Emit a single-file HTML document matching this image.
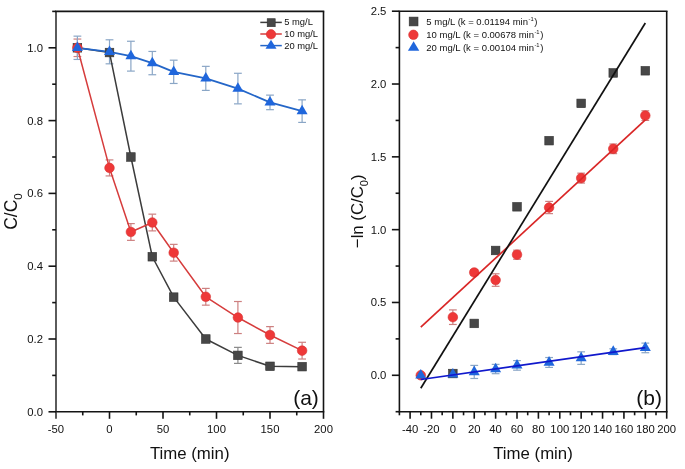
<!DOCTYPE html>
<html><head><meta charset="utf-8"><style>
html,body{margin:0;padding:0;background:#fff;width:685px;height:469px;overflow:hidden;}
svg{display:block;will-change:transform;font-family:"Liberation Sans",sans-serif;}
</style></head><body>
<svg width="685" height="469" viewBox="0 0 685 469" font-family="Liberation Sans, sans-serif">
<rect width="685" height="469" fill="#fff"/>
<line x1="56.0" y1="11.4" x2="56.0" y2="411.8" stroke="#333" stroke-width="1.6"/>
<line x1="55.2" y1="11.4" x2="324.3" y2="11.4" stroke="#141414" stroke-width="1.6"/>
<line x1="55.2" y1="411.8" x2="324.3" y2="411.8" stroke="#141414" stroke-width="1.6"/>
<line x1="323.5" y1="11.4" x2="323.5" y2="411.8" stroke="#141414" stroke-width="1.6"/>
<line x1="56.00" y1="411.8" x2="56.00" y2="418.80" stroke="#333" stroke-width="1.6"/>
<line x1="109.50" y1="411.8" x2="109.50" y2="418.80" stroke="#141414" stroke-width="1.6"/>
<line x1="163.00" y1="411.8" x2="163.00" y2="418.80" stroke="#141414" stroke-width="1.6"/>
<line x1="216.50" y1="411.8" x2="216.50" y2="418.80" stroke="#141414" stroke-width="1.6"/>
<line x1="270.00" y1="411.8" x2="270.00" y2="418.80" stroke="#141414" stroke-width="1.6"/>
<line x1="323.50" y1="411.8" x2="323.50" y2="418.80" stroke="#141414" stroke-width="1.6"/>
<line x1="82.75" y1="411.8" x2="82.75" y2="415.40" stroke="#141414" stroke-width="1.6"/>
<line x1="136.25" y1="411.8" x2="136.25" y2="415.40" stroke="#141414" stroke-width="1.6"/>
<line x1="189.75" y1="411.8" x2="189.75" y2="415.40" stroke="#141414" stroke-width="1.6"/>
<line x1="243.25" y1="411.8" x2="243.25" y2="415.40" stroke="#141414" stroke-width="1.6"/>
<line x1="296.75" y1="411.8" x2="296.75" y2="415.40" stroke="#141414" stroke-width="1.6"/>
<line x1="48.50" y1="411.80" x2="56.0" y2="411.80" stroke="#141414" stroke-width="1.6"/>
<line x1="48.50" y1="339.00" x2="56.0" y2="339.00" stroke="#141414" stroke-width="1.6"/>
<line x1="48.50" y1="266.20" x2="56.0" y2="266.20" stroke="#141414" stroke-width="1.6"/>
<line x1="48.50" y1="193.40" x2="56.0" y2="193.40" stroke="#141414" stroke-width="1.6"/>
<line x1="48.50" y1="120.60" x2="56.0" y2="120.60" stroke="#141414" stroke-width="1.6"/>
<line x1="48.50" y1="47.80" x2="56.0" y2="47.80" stroke="#141414" stroke-width="1.6"/>
<line x1="52.20" y1="375.40" x2="56.0" y2="375.40" stroke="#141414" stroke-width="1.6"/>
<line x1="52.20" y1="302.60" x2="56.0" y2="302.60" stroke="#141414" stroke-width="1.6"/>
<line x1="52.20" y1="229.80" x2="56.0" y2="229.80" stroke="#141414" stroke-width="1.6"/>
<line x1="52.20" y1="157.00" x2="56.0" y2="157.00" stroke="#141414" stroke-width="1.6"/>
<line x1="52.20" y1="84.20" x2="56.0" y2="84.20" stroke="#141414" stroke-width="1.6"/>
<line x1="52.20" y1="11.40" x2="56.0" y2="11.40" stroke="#141414" stroke-width="1.6"/>
<text x="56.00" y="433.1" text-anchor="middle" font-size="11.3" fill="#111">-50</text>
<text x="109.50" y="433.1" text-anchor="middle" font-size="11.3" fill="#111">0</text>
<text x="163.00" y="433.1" text-anchor="middle" font-size="11.3" fill="#111">50</text>
<text x="216.50" y="433.1" text-anchor="middle" font-size="11.3" fill="#111">100</text>
<text x="270.00" y="433.1" text-anchor="middle" font-size="11.3" fill="#111">150</text>
<text x="323.50" y="433.1" text-anchor="middle" font-size="11.3" fill="#111">200</text>
<text x="43.00" y="415.80" text-anchor="end" font-size="11.3" fill="#111">0.0</text>
<text x="43.00" y="343.00" text-anchor="end" font-size="11.3" fill="#111">0.2</text>
<text x="43.00" y="270.20" text-anchor="end" font-size="11.3" fill="#111">0.4</text>
<text x="43.00" y="197.40" text-anchor="end" font-size="11.3" fill="#111">0.6</text>
<text x="43.00" y="124.60" text-anchor="end" font-size="11.3" fill="#111">0.8</text>
<text x="43.00" y="51.80" text-anchor="end" font-size="11.3" fill="#111">1.0</text>
<line x1="237.90" y1="347.37" x2="237.90" y2="363.39" stroke="#8a8a8a" stroke-width="1.2"/>
<line x1="234.00" y1="347.37" x2="241.80" y2="347.37" stroke="#8a8a8a" stroke-width="1.2"/>
<line x1="234.00" y1="363.39" x2="241.80" y2="363.39" stroke="#8a8a8a" stroke-width="1.2"/>
<line x1="77.40" y1="39.06" x2="77.40" y2="56.54" stroke="#cd8080" stroke-width="1.2"/>
<line x1="73.50" y1="39.06" x2="81.30" y2="39.06" stroke="#cd8080" stroke-width="1.2"/>
<line x1="73.50" y1="56.54" x2="81.30" y2="56.54" stroke="#cd8080" stroke-width="1.2"/>
<line x1="109.50" y1="159.91" x2="109.50" y2="175.93" stroke="#cd8080" stroke-width="1.2"/>
<line x1="105.60" y1="159.91" x2="113.40" y2="159.91" stroke="#cd8080" stroke-width="1.2"/>
<line x1="105.60" y1="175.93" x2="113.40" y2="175.93" stroke="#cd8080" stroke-width="1.2"/>
<line x1="130.90" y1="223.61" x2="130.90" y2="240.36" stroke="#cd8080" stroke-width="1.2"/>
<line x1="127.00" y1="223.61" x2="134.80" y2="223.61" stroke="#cd8080" stroke-width="1.2"/>
<line x1="127.00" y1="240.36" x2="134.80" y2="240.36" stroke="#cd8080" stroke-width="1.2"/>
<line x1="152.30" y1="214.15" x2="152.30" y2="230.89" stroke="#cd8080" stroke-width="1.2"/>
<line x1="148.40" y1="214.15" x2="156.20" y2="214.15" stroke="#cd8080" stroke-width="1.2"/>
<line x1="148.40" y1="230.89" x2="156.20" y2="230.89" stroke="#cd8080" stroke-width="1.2"/>
<line x1="173.70" y1="244.36" x2="173.70" y2="261.10" stroke="#cd8080" stroke-width="1.2"/>
<line x1="169.80" y1="244.36" x2="177.60" y2="244.36" stroke="#cd8080" stroke-width="1.2"/>
<line x1="169.80" y1="261.10" x2="177.60" y2="261.10" stroke="#cd8080" stroke-width="1.2"/>
<line x1="205.80" y1="288.40" x2="205.80" y2="305.15" stroke="#cd8080" stroke-width="1.2"/>
<line x1="201.90" y1="288.40" x2="209.70" y2="288.40" stroke="#cd8080" stroke-width="1.2"/>
<line x1="201.90" y1="305.15" x2="209.70" y2="305.15" stroke="#cd8080" stroke-width="1.2"/>
<line x1="237.90" y1="301.51" x2="237.90" y2="333.54" stroke="#cd8080" stroke-width="1.2"/>
<line x1="234.00" y1="301.51" x2="241.80" y2="301.51" stroke="#cd8080" stroke-width="1.2"/>
<line x1="234.00" y1="333.54" x2="241.80" y2="333.54" stroke="#cd8080" stroke-width="1.2"/>
<line x1="270.00" y1="326.62" x2="270.00" y2="343.37" stroke="#cd8080" stroke-width="1.2"/>
<line x1="266.10" y1="326.62" x2="273.90" y2="326.62" stroke="#cd8080" stroke-width="1.2"/>
<line x1="266.10" y1="343.37" x2="273.90" y2="343.37" stroke="#cd8080" stroke-width="1.2"/>
<line x1="302.10" y1="342.28" x2="302.10" y2="359.02" stroke="#cd8080" stroke-width="1.2"/>
<line x1="298.20" y1="342.28" x2="306.00" y2="342.28" stroke="#cd8080" stroke-width="1.2"/>
<line x1="298.20" y1="359.02" x2="306.00" y2="359.02" stroke="#cd8080" stroke-width="1.2"/>
<line x1="77.40" y1="36.15" x2="77.40" y2="59.45" stroke="#8aa6c6" stroke-width="1.2"/>
<line x1="73.50" y1="36.15" x2="81.30" y2="36.15" stroke="#8aa6c6" stroke-width="1.2"/>
<line x1="73.50" y1="59.45" x2="81.30" y2="59.45" stroke="#8aa6c6" stroke-width="1.2"/>
<line x1="109.50" y1="39.79" x2="109.50" y2="63.82" stroke="#8aa6c6" stroke-width="1.2"/>
<line x1="105.60" y1="39.79" x2="113.40" y2="39.79" stroke="#8aa6c6" stroke-width="1.2"/>
<line x1="105.60" y1="63.82" x2="113.40" y2="63.82" stroke="#8aa6c6" stroke-width="1.2"/>
<line x1="130.90" y1="41.25" x2="130.90" y2="71.10" stroke="#8aa6c6" stroke-width="1.2"/>
<line x1="127.00" y1="41.25" x2="134.80" y2="41.25" stroke="#8aa6c6" stroke-width="1.2"/>
<line x1="127.00" y1="71.10" x2="134.80" y2="71.10" stroke="#8aa6c6" stroke-width="1.2"/>
<line x1="152.30" y1="51.44" x2="152.30" y2="74.74" stroke="#8aa6c6" stroke-width="1.2"/>
<line x1="148.40" y1="51.44" x2="156.20" y2="51.44" stroke="#8aa6c6" stroke-width="1.2"/>
<line x1="148.40" y1="74.74" x2="156.20" y2="74.74" stroke="#8aa6c6" stroke-width="1.2"/>
<line x1="173.70" y1="60.18" x2="173.70" y2="83.47" stroke="#8aa6c6" stroke-width="1.2"/>
<line x1="169.80" y1="60.18" x2="177.60" y2="60.18" stroke="#8aa6c6" stroke-width="1.2"/>
<line x1="169.80" y1="83.47" x2="177.60" y2="83.47" stroke="#8aa6c6" stroke-width="1.2"/>
<line x1="205.80" y1="66.36" x2="205.80" y2="90.39" stroke="#8aa6c6" stroke-width="1.2"/>
<line x1="201.90" y1="66.36" x2="209.70" y2="66.36" stroke="#8aa6c6" stroke-width="1.2"/>
<line x1="201.90" y1="90.39" x2="209.70" y2="90.39" stroke="#8aa6c6" stroke-width="1.2"/>
<line x1="237.90" y1="73.28" x2="237.90" y2="103.86" stroke="#8aa6c6" stroke-width="1.2"/>
<line x1="234.00" y1="73.28" x2="241.80" y2="73.28" stroke="#8aa6c6" stroke-width="1.2"/>
<line x1="234.00" y1="103.86" x2="241.80" y2="103.86" stroke="#8aa6c6" stroke-width="1.2"/>
<line x1="270.00" y1="95.12" x2="270.00" y2="109.68" stroke="#8aa6c6" stroke-width="1.2"/>
<line x1="266.10" y1="95.12" x2="273.90" y2="95.12" stroke="#8aa6c6" stroke-width="1.2"/>
<line x1="266.10" y1="109.68" x2="273.90" y2="109.68" stroke="#8aa6c6" stroke-width="1.2"/>
<line x1="302.10" y1="99.85" x2="302.10" y2="122.42" stroke="#8aa6c6" stroke-width="1.2"/>
<line x1="298.20" y1="99.85" x2="306.00" y2="99.85" stroke="#8aa6c6" stroke-width="1.2"/>
<line x1="298.20" y1="122.42" x2="306.00" y2="122.42" stroke="#8aa6c6" stroke-width="1.2"/>
<polyline points="77.40,47.80 109.50,52.53 130.90,157.00 152.30,256.74 173.70,297.14 205.80,339.00 237.90,355.38 270.00,366.30 302.10,366.66" fill="none" stroke="#3c3c3c" stroke-width="1.5" stroke-linejoin="round"/>
<polyline points="77.40,47.80 109.50,167.92 130.90,231.98 152.30,222.52 173.70,252.73 205.80,296.78 237.90,317.52 270.00,335.00 302.10,350.65" fill="none" stroke="#d63c3c" stroke-width="1.5" stroke-linejoin="round"/>
<polyline points="77.40,47.80 109.50,51.80 130.90,56.17 152.30,63.09 173.70,71.82 205.80,78.38 237.90,88.57 270.00,102.40 302.10,111.14" fill="none" stroke="#2466c8" stroke-width="1.8" stroke-linejoin="round"/>
<rect x="73.10" y="43.50" width="8.6" height="8.6" fill="#474747" stroke="#333" stroke-width="0.6"/>
<rect x="105.20" y="48.23" width="8.6" height="8.6" fill="#474747" stroke="#333" stroke-width="0.6"/>
<rect x="126.60" y="152.70" width="8.6" height="8.6" fill="#474747" stroke="#333" stroke-width="0.6"/>
<rect x="148.00" y="252.44" width="8.6" height="8.6" fill="#474747" stroke="#333" stroke-width="0.6"/>
<rect x="169.40" y="292.84" width="8.6" height="8.6" fill="#474747" stroke="#333" stroke-width="0.6"/>
<rect x="201.50" y="334.70" width="8.6" height="8.6" fill="#474747" stroke="#333" stroke-width="0.6"/>
<rect x="233.60" y="351.08" width="8.6" height="8.6" fill="#474747" stroke="#333" stroke-width="0.6"/>
<rect x="265.70" y="362.00" width="8.6" height="8.6" fill="#474747" stroke="#333" stroke-width="0.6"/>
<rect x="297.80" y="362.36" width="8.6" height="8.6" fill="#474747" stroke="#333" stroke-width="0.6"/>
<circle cx="77.40" cy="47.80" r="4.8" fill="#ee3838" stroke="#d83232" stroke-width="0.6"/>
<circle cx="109.50" cy="167.92" r="4.8" fill="#ee3838" stroke="#d83232" stroke-width="0.6"/>
<circle cx="130.90" cy="231.98" r="4.8" fill="#ee3838" stroke="#d83232" stroke-width="0.6"/>
<circle cx="152.30" cy="222.52" r="4.8" fill="#ee3838" stroke="#d83232" stroke-width="0.6"/>
<circle cx="173.70" cy="252.73" r="4.8" fill="#ee3838" stroke="#d83232" stroke-width="0.6"/>
<circle cx="205.80" cy="296.78" r="4.8" fill="#ee3838" stroke="#d83232" stroke-width="0.6"/>
<circle cx="237.90" cy="317.52" r="4.8" fill="#ee3838" stroke="#d83232" stroke-width="0.6"/>
<circle cx="270.00" cy="335.00" r="4.8" fill="#ee3838" stroke="#d83232" stroke-width="0.6"/>
<circle cx="302.10" cy="350.65" r="4.8" fill="#ee3838" stroke="#d83232" stroke-width="0.6"/>
<path d="M77.40,41.40 L82.90,51.00 L71.90,51.00 Z" fill="#1f66dc"/>
<path d="M109.50,45.40 L115.00,55.00 L104.00,55.00 Z" fill="#1f66dc"/>
<path d="M130.90,49.77 L136.40,59.37 L125.40,59.37 Z" fill="#1f66dc"/>
<path d="M152.30,56.69 L157.80,66.29 L146.80,66.29 Z" fill="#1f66dc"/>
<path d="M173.70,65.42 L179.20,75.02 L168.20,75.02 Z" fill="#1f66dc"/>
<path d="M205.80,71.98 L211.30,81.58 L200.30,81.58 Z" fill="#1f66dc"/>
<path d="M237.90,82.17 L243.40,91.77 L232.40,91.77 Z" fill="#1f66dc"/>
<path d="M270.00,96.00 L275.50,105.60 L264.50,105.60 Z" fill="#1f66dc"/>
<path d="M302.10,104.74 L307.60,114.34 L296.60,114.34 Z" fill="#1f66dc"/>
<line x1="260.3" y1="22.4" x2="281.8" y2="22.4" stroke="#3c3c3c" stroke-width="1.5"/>
<rect x="267.20" y="18.70" width="8.0" height="8.0" fill="#474747" stroke="#333" stroke-width="0.6"/>
<text x="284.2" y="25.40" font-size="9.4" fill="#111">5 mg/L</text>
<line x1="260.3" y1="34.0" x2="281.8" y2="34.0" stroke="#d63c3c" stroke-width="1.5"/>
<circle cx="271.00" cy="34.30" r="4.7" fill="#ee3838" stroke="#d83232" stroke-width="0.6"/>
<text x="284.2" y="37.00" font-size="9.4" fill="#111">10 mg/L</text>
<line x1="260.3" y1="45.6" x2="281.8" y2="45.6" stroke="#2466c8" stroke-width="1.5"/>
<path d="M271.00,39.70 L276.50,48.70 L265.50,48.70 Z" fill="#1f66dc"/>
<text x="284.2" y="48.60" font-size="9.4" fill="#111">20 mg/L</text>
<text x="293.2" y="404.6" font-size="21" fill="#111">(a)</text>
<text transform="translate(17.2,211.6) rotate(-90)" text-anchor="middle" font-size="17.5" fill="#111">C/C<tspan font-size="11.5" dy="4.5">0</tspan></text>
<text x="189.7" y="458.8" text-anchor="middle" font-size="16.8" fill="#111">Time (min)</text>
<line x1="399.4" y1="11.2" x2="399.4" y2="411.7" stroke="#141414" stroke-width="1.6"/>
<line x1="398.59999999999997" y1="11.2" x2="667.5" y2="11.2" stroke="#141414" stroke-width="1.6"/>
<line x1="398.59999999999997" y1="411.7" x2="667.5" y2="411.7" stroke="#141414" stroke-width="1.6"/>
<line x1="666.7" y1="11.2" x2="666.7" y2="411.7" stroke="#141414" stroke-width="1.6"/>
<line x1="410.09" y1="411.7" x2="410.09" y2="418.70" stroke="#141414" stroke-width="1.6"/>
<line x1="431.48" y1="411.7" x2="431.48" y2="418.70" stroke="#141414" stroke-width="1.6"/>
<line x1="452.86" y1="411.7" x2="452.86" y2="418.70" stroke="#141414" stroke-width="1.6"/>
<line x1="474.24" y1="411.7" x2="474.24" y2="418.70" stroke="#141414" stroke-width="1.6"/>
<line x1="495.63" y1="411.7" x2="495.63" y2="418.70" stroke="#141414" stroke-width="1.6"/>
<line x1="517.01" y1="411.7" x2="517.01" y2="418.70" stroke="#141414" stroke-width="1.6"/>
<line x1="538.40" y1="411.7" x2="538.40" y2="418.70" stroke="#141414" stroke-width="1.6"/>
<line x1="559.78" y1="411.7" x2="559.78" y2="418.70" stroke="#141414" stroke-width="1.6"/>
<line x1="581.16" y1="411.7" x2="581.16" y2="418.70" stroke="#141414" stroke-width="1.6"/>
<line x1="602.55" y1="411.7" x2="602.55" y2="418.70" stroke="#141414" stroke-width="1.6"/>
<line x1="623.93" y1="411.7" x2="623.93" y2="418.70" stroke="#141414" stroke-width="1.6"/>
<line x1="645.32" y1="411.7" x2="645.32" y2="418.70" stroke="#141414" stroke-width="1.6"/>
<line x1="666.70" y1="411.7" x2="666.70" y2="418.70" stroke="#141414" stroke-width="1.6"/>
<line x1="399.40" y1="411.7" x2="399.40" y2="415.30" stroke="#141414" stroke-width="1.6"/>
<line x1="420.78" y1="411.7" x2="420.78" y2="415.30" stroke="#141414" stroke-width="1.6"/>
<line x1="442.17" y1="411.7" x2="442.17" y2="415.30" stroke="#141414" stroke-width="1.6"/>
<line x1="463.55" y1="411.7" x2="463.55" y2="415.30" stroke="#141414" stroke-width="1.6"/>
<line x1="484.94" y1="411.7" x2="484.94" y2="415.30" stroke="#141414" stroke-width="1.6"/>
<line x1="506.32" y1="411.7" x2="506.32" y2="415.30" stroke="#141414" stroke-width="1.6"/>
<line x1="527.70" y1="411.7" x2="527.70" y2="415.30" stroke="#141414" stroke-width="1.6"/>
<line x1="549.09" y1="411.7" x2="549.09" y2="415.30" stroke="#141414" stroke-width="1.6"/>
<line x1="570.47" y1="411.7" x2="570.47" y2="415.30" stroke="#141414" stroke-width="1.6"/>
<line x1="591.86" y1="411.7" x2="591.86" y2="415.30" stroke="#141414" stroke-width="1.6"/>
<line x1="613.24" y1="411.7" x2="613.24" y2="415.30" stroke="#141414" stroke-width="1.6"/>
<line x1="634.62" y1="411.7" x2="634.62" y2="415.30" stroke="#141414" stroke-width="1.6"/>
<line x1="656.01" y1="411.7" x2="656.01" y2="415.30" stroke="#141414" stroke-width="1.6"/>
<line x1="391.90" y1="375.29" x2="399.4" y2="375.29" stroke="#141414" stroke-width="1.6"/>
<line x1="391.90" y1="302.47" x2="399.4" y2="302.47" stroke="#141414" stroke-width="1.6"/>
<line x1="391.90" y1="229.65" x2="399.4" y2="229.65" stroke="#141414" stroke-width="1.6"/>
<line x1="391.90" y1="156.84" x2="399.4" y2="156.84" stroke="#141414" stroke-width="1.6"/>
<line x1="391.90" y1="84.02" x2="399.4" y2="84.02" stroke="#141414" stroke-width="1.6"/>
<line x1="391.90" y1="11.20" x2="399.4" y2="11.20" stroke="#141414" stroke-width="1.6"/>
<line x1="395.60" y1="411.70" x2="399.4" y2="411.70" stroke="#141414" stroke-width="1.6"/>
<line x1="395.60" y1="338.88" x2="399.4" y2="338.88" stroke="#141414" stroke-width="1.6"/>
<line x1="395.60" y1="266.06" x2="399.4" y2="266.06" stroke="#141414" stroke-width="1.6"/>
<line x1="395.60" y1="193.25" x2="399.4" y2="193.25" stroke="#141414" stroke-width="1.6"/>
<line x1="395.60" y1="120.43" x2="399.4" y2="120.43" stroke="#141414" stroke-width="1.6"/>
<line x1="395.60" y1="47.61" x2="399.4" y2="47.61" stroke="#141414" stroke-width="1.6"/>
<text x="410.09" y="433.1" text-anchor="middle" font-size="11.3" fill="#111">-40</text>
<text x="431.48" y="433.1" text-anchor="middle" font-size="11.3" fill="#111">-20</text>
<text x="452.86" y="433.1" text-anchor="middle" font-size="11.3" fill="#111">0</text>
<text x="474.24" y="433.1" text-anchor="middle" font-size="11.3" fill="#111">20</text>
<text x="495.63" y="433.1" text-anchor="middle" font-size="11.3" fill="#111">40</text>
<text x="517.01" y="433.1" text-anchor="middle" font-size="11.3" fill="#111">60</text>
<text x="538.40" y="433.1" text-anchor="middle" font-size="11.3" fill="#111">80</text>
<text x="559.78" y="433.1" text-anchor="middle" font-size="11.3" fill="#111">100</text>
<text x="581.16" y="433.1" text-anchor="middle" font-size="11.3" fill="#111">120</text>
<text x="602.55" y="433.1" text-anchor="middle" font-size="11.3" fill="#111">140</text>
<text x="623.93" y="433.1" text-anchor="middle" font-size="11.3" fill="#111">160</text>
<text x="645.32" y="433.1" text-anchor="middle" font-size="11.3" fill="#111">180</text>
<text x="666.70" y="433.1" text-anchor="middle" font-size="11.3" fill="#111">200</text>
<text x="386.40" y="379.29" text-anchor="end" font-size="11.3" fill="#111">0.0</text>
<text x="386.40" y="306.47" text-anchor="end" font-size="11.3" fill="#111">0.5</text>
<text x="386.40" y="233.65" text-anchor="end" font-size="11.3" fill="#111">1.0</text>
<text x="386.40" y="160.84" text-anchor="end" font-size="11.3" fill="#111">1.5</text>
<text x="386.40" y="88.02" text-anchor="end" font-size="11.3" fill="#111">2.0</text>
<text x="386.40" y="15.20" text-anchor="end" font-size="11.3" fill="#111">2.5</text>
<line x1="452.86" y1="309.90" x2="452.86" y2="324.46" stroke="#cd8080" stroke-width="1.2"/>
<line x1="448.96" y1="309.90" x2="456.76" y2="309.90" stroke="#cd8080" stroke-width="1.2"/>
<line x1="448.96" y1="324.46" x2="456.76" y2="324.46" stroke="#cd8080" stroke-width="1.2"/>
<line x1="474.24" y1="269.56" x2="474.24" y2="275.38" stroke="#cd8080" stroke-width="1.2"/>
<line x1="470.34" y1="269.56" x2="478.14" y2="269.56" stroke="#cd8080" stroke-width="1.2"/>
<line x1="470.34" y1="275.38" x2="478.14" y2="275.38" stroke="#cd8080" stroke-width="1.2"/>
<line x1="495.63" y1="273.78" x2="495.63" y2="286.31" stroke="#cd8080" stroke-width="1.2"/>
<line x1="491.73" y1="273.78" x2="499.53" y2="273.78" stroke="#cd8080" stroke-width="1.2"/>
<line x1="491.73" y1="286.31" x2="499.53" y2="286.31" stroke="#cd8080" stroke-width="1.2"/>
<line x1="517.01" y1="250.19" x2="517.01" y2="259.22" stroke="#cd8080" stroke-width="1.2"/>
<line x1="513.11" y1="250.19" x2="520.91" y2="250.19" stroke="#cd8080" stroke-width="1.2"/>
<line x1="513.11" y1="259.22" x2="520.91" y2="259.22" stroke="#cd8080" stroke-width="1.2"/>
<line x1="549.09" y1="201.40" x2="549.09" y2="213.63" stroke="#cd8080" stroke-width="1.2"/>
<line x1="545.19" y1="201.40" x2="552.99" y2="201.40" stroke="#cd8080" stroke-width="1.2"/>
<line x1="545.19" y1="213.63" x2="552.99" y2="213.63" stroke="#cd8080" stroke-width="1.2"/>
<line x1="581.16" y1="173.15" x2="581.16" y2="183.05" stroke="#cd8080" stroke-width="1.2"/>
<line x1="577.26" y1="173.15" x2="585.06" y2="173.15" stroke="#cd8080" stroke-width="1.2"/>
<line x1="577.26" y1="183.05" x2="585.06" y2="183.05" stroke="#cd8080" stroke-width="1.2"/>
<line x1="613.24" y1="144.02" x2="613.24" y2="153.63" stroke="#cd8080" stroke-width="1.2"/>
<line x1="609.34" y1="144.02" x2="617.14" y2="144.02" stroke="#cd8080" stroke-width="1.2"/>
<line x1="609.34" y1="153.63" x2="617.14" y2="153.63" stroke="#cd8080" stroke-width="1.2"/>
<line x1="645.32" y1="110.82" x2="645.32" y2="120.43" stroke="#cd8080" stroke-width="1.2"/>
<line x1="641.42" y1="110.82" x2="649.22" y2="110.82" stroke="#cd8080" stroke-width="1.2"/>
<line x1="641.42" y1="120.43" x2="649.22" y2="120.43" stroke="#cd8080" stroke-width="1.2"/>
<line x1="420.78" y1="373.83" x2="420.78" y2="376.75" stroke="#8aa6c6" stroke-width="1.2"/>
<line x1="416.88" y1="373.83" x2="424.68" y2="373.83" stroke="#8aa6c6" stroke-width="1.2"/>
<line x1="416.88" y1="376.75" x2="424.68" y2="376.75" stroke="#8aa6c6" stroke-width="1.2"/>
<line x1="452.86" y1="372.96" x2="452.86" y2="375.87" stroke="#8aa6c6" stroke-width="1.2"/>
<line x1="448.96" y1="372.96" x2="456.76" y2="372.96" stroke="#8aa6c6" stroke-width="1.2"/>
<line x1="448.96" y1="375.87" x2="456.76" y2="375.87" stroke="#8aa6c6" stroke-width="1.2"/>
<line x1="474.24" y1="365.39" x2="474.24" y2="378.49" stroke="#8aa6c6" stroke-width="1.2"/>
<line x1="470.34" y1="365.39" x2="478.14" y2="365.39" stroke="#8aa6c6" stroke-width="1.2"/>
<line x1="470.34" y1="378.49" x2="478.14" y2="378.49" stroke="#8aa6c6" stroke-width="1.2"/>
<line x1="495.63" y1="364.37" x2="495.63" y2="373.69" stroke="#8aa6c6" stroke-width="1.2"/>
<line x1="491.73" y1="364.37" x2="499.53" y2="364.37" stroke="#8aa6c6" stroke-width="1.2"/>
<line x1="491.73" y1="373.69" x2="499.53" y2="373.69" stroke="#8aa6c6" stroke-width="1.2"/>
<line x1="517.01" y1="360.58" x2="517.01" y2="370.19" stroke="#8aa6c6" stroke-width="1.2"/>
<line x1="513.11" y1="360.58" x2="520.91" y2="360.58" stroke="#8aa6c6" stroke-width="1.2"/>
<line x1="513.11" y1="370.19" x2="520.91" y2="370.19" stroke="#8aa6c6" stroke-width="1.2"/>
<line x1="549.09" y1="357.52" x2="549.09" y2="367.43" stroke="#8aa6c6" stroke-width="1.2"/>
<line x1="545.19" y1="357.52" x2="552.99" y2="357.52" stroke="#8aa6c6" stroke-width="1.2"/>
<line x1="545.19" y1="367.43" x2="552.99" y2="367.43" stroke="#8aa6c6" stroke-width="1.2"/>
<line x1="581.16" y1="351.84" x2="581.16" y2="364.37" stroke="#8aa6c6" stroke-width="1.2"/>
<line x1="577.26" y1="351.84" x2="585.06" y2="351.84" stroke="#8aa6c6" stroke-width="1.2"/>
<line x1="577.26" y1="364.37" x2="585.06" y2="364.37" stroke="#8aa6c6" stroke-width="1.2"/>
<line x1="613.24" y1="348.79" x2="613.24" y2="354.61" stroke="#8aa6c6" stroke-width="1.2"/>
<line x1="609.34" y1="348.79" x2="617.14" y2="348.79" stroke="#8aa6c6" stroke-width="1.2"/>
<line x1="609.34" y1="354.61" x2="617.14" y2="354.61" stroke="#8aa6c6" stroke-width="1.2"/>
<line x1="645.32" y1="343.11" x2="645.32" y2="352.72" stroke="#8aa6c6" stroke-width="1.2"/>
<line x1="641.42" y1="343.11" x2="649.22" y2="343.11" stroke="#8aa6c6" stroke-width="1.2"/>
<line x1="641.42" y1="352.72" x2="649.22" y2="352.72" stroke="#8aa6c6" stroke-width="1.2"/>
<rect x="448.56" y="369.24" width="8.6" height="8.6" fill="#474747" stroke="#333" stroke-width="0.6"/>
<rect x="469.94" y="319.14" width="8.6" height="8.6" fill="#474747" stroke="#333" stroke-width="0.6"/>
<rect x="491.33" y="246.18" width="8.6" height="8.6" fill="#474747" stroke="#333" stroke-width="0.6"/>
<rect x="512.71" y="202.49" width="8.6" height="8.6" fill="#474747" stroke="#333" stroke-width="0.6"/>
<rect x="544.79" y="136.37" width="8.6" height="8.6" fill="#474747" stroke="#333" stroke-width="0.6"/>
<rect x="576.86" y="99.09" width="8.6" height="8.6" fill="#474747" stroke="#333" stroke-width="0.6"/>
<rect x="608.94" y="68.65" width="8.6" height="8.6" fill="#474747" stroke="#333" stroke-width="0.6"/>
<rect x="641.02" y="66.47" width="8.6" height="8.6" fill="#474747" stroke="#333" stroke-width="0.6"/>
<circle cx="420.78" cy="375.29" r="4.8" fill="#ee3838" stroke="#d83232" stroke-width="0.6"/>
<circle cx="452.86" cy="317.18" r="4.8" fill="#ee3838" stroke="#d83232" stroke-width="0.6"/>
<circle cx="474.24" cy="272.47" r="4.8" fill="#ee3838" stroke="#d83232" stroke-width="0.6"/>
<circle cx="495.63" cy="280.04" r="4.8" fill="#ee3838" stroke="#d83232" stroke-width="0.6"/>
<circle cx="517.01" cy="254.70" r="4.8" fill="#ee3838" stroke="#d83232" stroke-width="0.6"/>
<circle cx="549.09" cy="207.52" r="4.8" fill="#ee3838" stroke="#d83232" stroke-width="0.6"/>
<circle cx="581.16" cy="178.10" r="4.8" fill="#ee3838" stroke="#d83232" stroke-width="0.6"/>
<circle cx="613.24" cy="148.83" r="4.8" fill="#ee3838" stroke="#d83232" stroke-width="0.6"/>
<circle cx="645.32" cy="115.62" r="4.8" fill="#ee3838" stroke="#d83232" stroke-width="0.6"/>
<line x1="420.78" y1="327.23" x2="645.32" y2="119.87" stroke="#d92626" stroke-width="1.7"/>
<line x1="420.78" y1="388.19" x2="645.32" y2="23.03" stroke="#111" stroke-width="1.7"/>
<path d="M420.78,368.89 L426.28,378.49 L415.28,378.49 Z" fill="#1f66dc"/>
<path d="M452.86,368.02 L458.36,377.62 L447.36,377.62 Z" fill="#1f66dc"/>
<path d="M474.24,365.54 L479.74,375.14 L468.74,375.14 Z" fill="#1f66dc"/>
<path d="M495.63,362.63 L501.13,372.23 L490.13,372.23 Z" fill="#1f66dc"/>
<path d="M517.01,358.99 L522.51,368.59 L511.51,368.59 Z" fill="#1f66dc"/>
<path d="M549.09,356.07 L554.59,365.67 L543.59,365.67 Z" fill="#1f66dc"/>
<path d="M581.16,351.71 L586.66,361.31 L575.66,361.31 Z" fill="#1f66dc"/>
<path d="M613.24,345.30 L618.74,354.90 L607.74,354.90 Z" fill="#1f66dc"/>
<path d="M645.32,341.51 L650.82,351.11 L639.82,351.11 Z" fill="#1f66dc"/>
<line x1="420.78" y1="379.49" x2="645.32" y2="347.68" stroke="#1018cc" stroke-width="1.65"/>
<rect x="409.20" y="17.10" width="8.8" height="8.8" fill="#474747" stroke="#333" stroke-width="0.6"/>
<text x="426.3" y="24.60" font-size="9.5" fill="#111">5 mg/L (k = 0.01194 min<tspan font-size="5.8" dx="0.5" dy="-3.9">-1</tspan><tspan dx="0.7" dy="3.9">)</tspan></text>
<circle cx="413.40" cy="34.80" r="4.75" fill="#ee3838" stroke="#d83232" stroke-width="0.6"/>
<text x="426.3" y="37.90" font-size="9.5" fill="#111">10 mg/L (k = 0.00678 min<tspan font-size="5.8" dx="0.5" dy="-3.9">-1</tspan><tspan dx="0.7" dy="3.9">)</tspan></text>
<path d="M413.60,41.13 L419.30,50.83 L407.90,50.83 Z" fill="#1f66dc"/>
<text x="426.3" y="50.70" font-size="9.5" fill="#111">20 mg/L (k = 0.00104 min<tspan font-size="5.8" dx="0.5" dy="-3.9">-1</tspan><tspan dx="0.7" dy="3.9">)</tspan></text>
<text x="636.3" y="405.4" font-size="21" fill="#111">(b)</text>
<text transform="translate(363.4,211.3) rotate(-90)" text-anchor="middle" font-size="16.8" fill="#111">−ln (C/C<tspan font-size="11" dy="4.3">0</tspan><tspan dy="-4.3">)</tspan></text>
<text x="533" y="459.0" text-anchor="middle" font-size="16.8" fill="#111">Time (min)</text>
</svg>
</body></html>
